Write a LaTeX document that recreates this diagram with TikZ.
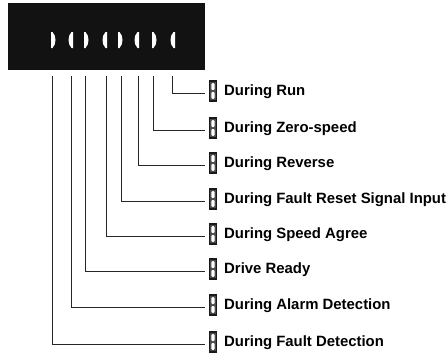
\documentclass[tikz,border=0pt]{standalone}
\usepackage{fontspec}
\setmainfont{Liberation Sans}
\begin{document}
\begin{tikzpicture}[x=1pt,y=-1pt,
  wire/.style={draw=black!85,line width=0.9pt},
  lbl/.style={anchor=base west,inner sep=0pt,font=\fontsize{14.9}{17}\selectfont\bfseries},
  icon/.style={draw=black!90,fill=black!70,line width=1.3pt,minimum width=7.5pt,minimum height=20pt,inner sep=0pt,
    path picture={
      \fill[white,rounded corners=1pt] ([shift={(2.2pt,11pt)}]path picture bounding box.south west) rectangle ([shift={(-2.2pt,-2.2pt)}]path picture bounding box.north east);
      \fill[white,rounded corners=1pt] ([shift={(2.2pt,2.2pt)}]path picture bounding box.south west) rectangle ([shift={(-2.2pt,-11pt)}]path picture bounding box.north east);
    }},
  segw/.style={fill=white}]
\useasboundingbox (0,0) rectangle (448,356);
\node[fill=black!93,minimum width=197pt,minimum height=67pt,inner sep=0pt] (disp) at (106.5,36.5) {};
\foreach \a in {51,84,118,152}
  \fill[segw] (\a,32) -- (\a+1.5,32) .. controls (\a+5.5,36) and (\a+5.5,44) .. (\a+1.5,48) -- (\a,48) -- cycle;
\foreach \b in {73,107,139,175}
  \fill[segw] (\b,32) -- (\b-1.5,32) .. controls (\b-5.5,36) and (\b-5.5,44) .. (\b-1.5,48) -- (\b,48) -- cycle;
\foreach \k/\x/\y/\t in {1/172/93/During Run, 2/153/130/During Zero-speed, 3/138/165/During Reverse, 4/121/201/During Fault Reset Signal Input, 5/106/236/During Speed Agree, 6/85/271/Drive Ready, 7/71/307/During Alarm Detection, 8/52/344/During Fault Detection}{
  \coordinate (p\k) at (\x,76);
  \coordinate (r\k) at (205,\y);
  \node[icon] (i\k) at (213,\y-2) {};
  \node[lbl] (t\k) at (224,\y+2.5) {\t};
  \draw[wire] (p\k) |- (r\k);
}
\end{tikzpicture}
\end{document}
